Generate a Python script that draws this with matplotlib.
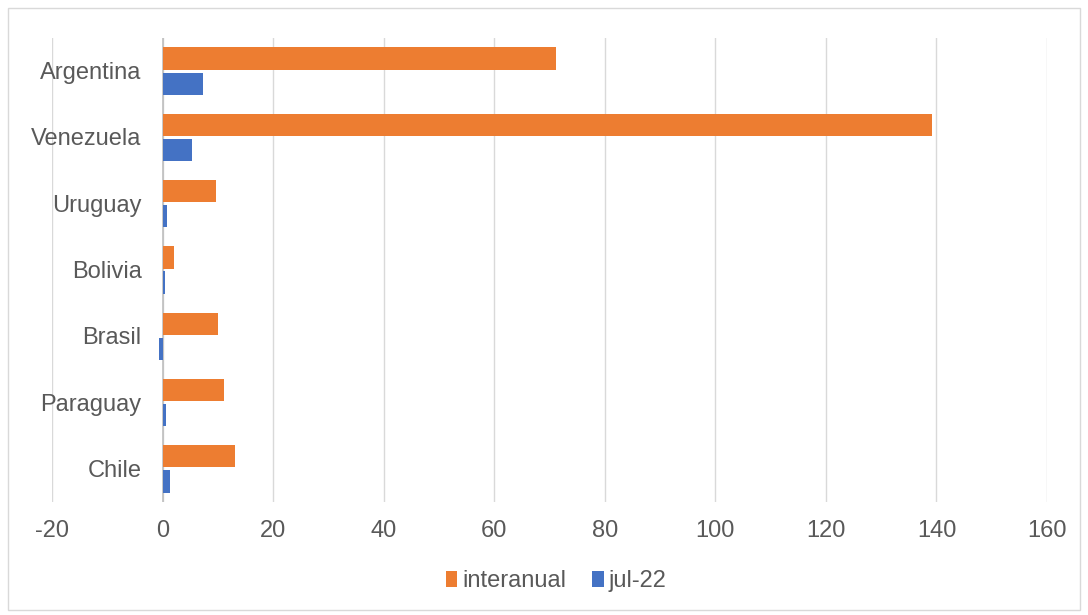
import matplotlib
matplotlib.use("Agg")
import matplotlib.pyplot as plt
import numpy as np
from matplotlib.patches import Rectangle
from matplotlib.transforms import offset_copy

categories = ["Argentina", "Venezuela", "Uruguay", "Bolivia", "Brasil", "Paraguay", "Chile"]
interanual = [71.1, 139.2, 9.6, 2.0, 10.1, 11.2, 13.1]
jul22 = [7.4, 5.4, 0.8, 0.4, -0.7, 0.6, 1.3]
xticks = [-20, 0, 20, 40, 60, 80, 100, 120, 140, 160]

plt.rcParams['font.family'] = ['Liberation Sans', 'DejaVu Sans']
FS = 17
TC = "#595959"

fig = plt.figure(figsize=(10.88, 6.15), dpi=100)
ax = fig.add_axes([52/1088, 1 - 502/615, (1047-52)/1088, (502-38)/615])

y = np.arange(len(categories))
h = 0.335
ax.barh(y - 0.19, interanual, height=h, color="#ED7D31", label="interanual", zorder=3)
ax.barh(y + 0.19, jul22, height=h, color="#4472C4", label="jul-22", zorder=3)

ax.set_xlim(-20, 160)
ax.set_ylim(len(categories) - 0.5, -0.5)
ax.set_xticks(xticks)
ax.set_xticklabels([str(t) for t in xticks], fontsize=FS, color=TC)
ax.set_yticks([])
ax.tick_params(axis='both', length=0)
ax.tick_params(axis='x', pad=13)
ax.grid(axis='x', color="#d9d9d9", linewidth=1, zorder=0)
for s in ax.spines.values():
    s.set_visible(False)
ax.axvline(0, color="#bfbfbf", linewidth=1.2, zorder=2)

trans = offset_copy(ax.transData, fig=fig, x=-21, y=-2, units='dots')
for yi, name in zip(y, categories):
    ax.text(0, yi, name, transform=trans, ha='right', va='center',
            fontsize=FS, color=TC, zorder=5, clip_on=False)

leg = fig.legend(loc='center', bbox_to_anchor=(556/1088, 1 - 581/615), ncol=2, frameon=False,
                 fontsize=FS, handlelength=0.5, handleheight=0.65, handletextpad=0.2,
                 columnspacing=1.1)
for t in leg.get_texts():
    t.set_color(TC)

fig.patches.append(Rectangle((8/1088, 1 - 610/615), (1080-8)/1088, (610-8)/615,
                             transform=fig.transFigure, fill=False, edgecolor="#d9d9d9", linewidth=1))

fig.savefig("out.png", dpi=100, facecolor="white")
